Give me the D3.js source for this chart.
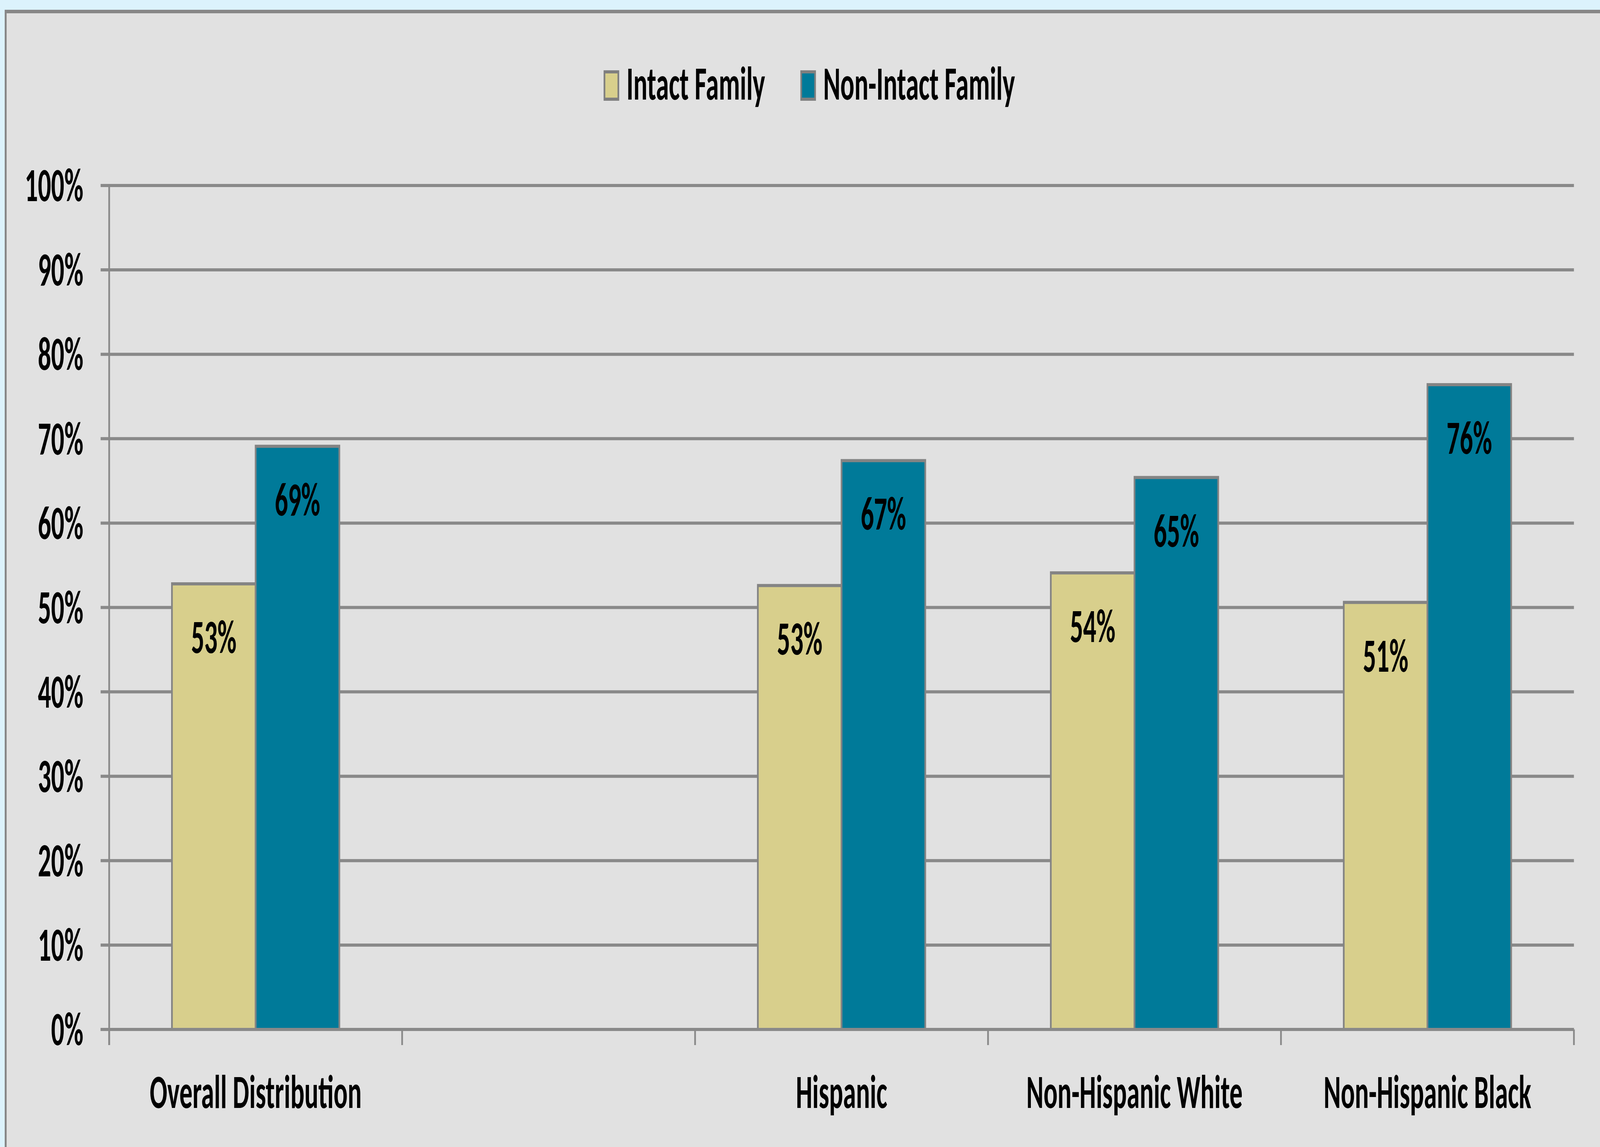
<!DOCTYPE html>
<meta charset="utf-8">
<html>
  <head>
    <script src="https://d3js.org/d3.v7.min.js"></script>
    <style>
      html, body { margin: 0; padding: 0; background: #dcf2fc; overflow: hidden; }
      text { font-family: Carlito, Lato, "Open Sans", sans-serif; font-weight: bold; fill: #000; }
    </style>
  </head>
  <body>
    <div id="chart"></div>

    <script type="text/javascript">
      var categories = ["Overall Distribution", "", "Hispanic", "Non-Hispanic White", "Non-Hispanic Black"],
          series = ["Intact Family", "Non-Intact Family"],
          intactValues = [0.528, null, 0.526, 0.541, 0.506],
          nonIntactValues = [0.691, null, 0.674, 0.654, 0.764],
          yTickValues = [0, 0.1, 0.2, 0.3, 0.4, 0.5, 0.6, 0.7, 0.8, 0.9, 1],
          colors = ["#d8cf8c", "#007a99"];

      var W = 7489, H = 2937,
          plotLeft = 511, plotRight = 7367, plotTop = 475, plotBottom = 2636,
          fontSize = 122,
          lineColor = "#898989", barStroke = "#848484";

      // drawn in 7489x2937 units, stretched to whatever the window really is
      var svg = d3.select("#chart").append("svg")
          .attr("viewBox", "0 0 " + W + " " + H)
          .attr("preserveAspectRatio", "none")
          .style("width", "100vw")
          .style("height", "100vh")
          .style("display", "block");

      // light blue page + gray chart area with border on top/left only
      svg.append("rect").attr("width", W).attr("height", H).attr("fill", "#dcf2fc");
      svg.append("rect").attr("x", 22).attr("y", 25).attr("width", W - 22).attr("height", H - 25).attr("fill", "#e1e1e1");
      svg.append("rect").attr("x", 22).attr("y", 25).attr("width", W - 22).attr("height", 9).attr("fill", "#878787");
      svg.append("rect").attr("x", 22).attr("y", 25).attr("width", 9).attr("height", H - 25).attr("fill", "#878787");

      var x0 = d3.scaleBand().domain(categories).range([plotLeft, plotRight]).padding(0);
      var x1 = d3.scaleBand().domain(series).range([0, x0.bandwidth()]).paddingInner(0).paddingOuter(0.75);
      var y = d3.scaleLinear().domain([0, 1]).range([plotBottom, plotTop]);

      var rows = categories.map(function(c, i) {
        return { cat: c, values: [intactValues[i], nonIntactValues[i]] };
      });

      // gridlines
      svg.append("g").selectAll("line")
          .data(yTickValues)
          .enter().append("line")
          .attr("x1", plotLeft - 40).attr("x2", plotRight)
          .attr("y1", function(d){ return y(d); })
          .attr("y2", function(d){ return y(d); })
          .style("stroke", lineColor)
          .style("stroke-width", 8);

      // y tick labels
      svg.append("g").selectAll("text")
          .data(yTickValues)
          .enter().append("text")
          .attr("x", 390)
          .attr("y", function(d){ return y(d) + fontSize * 0.33; })
          .attr("text-anchor", "end")
          .style("font-size", fontSize + "px")
          .text(d3.format(".0%"));

      // bars
      var groups = svg.append("g").selectAll("g")
          .data(rows)
          .enter().append("g")
          .attr("transform", function(d){ return "translate(" + x0(d.cat) + ",0)"; });

      var barData = function(d) {
        return series.map(function(s, j) { return { s: s, j: j, v: d.values[j] }; })
                     .filter(function(b) { return b.v != null; });
      };

      groups.selectAll("rect")
          .data(barData)
          .enter().append("rect")
          .attr("x", function(d){ return x1(d.s); })
          .attr("width", x1.bandwidth())
          .attr("y", function(d){ return y(d.v); })
          .attr("height", function(d){ return plotBottom - y(d.v); })
          .style("fill", function(d){ return colors[d.j]; })
          .style("stroke", barStroke)
          .style("stroke-width", 8);

      groups.selectAll("text")
          .data(barData)
          .enter().append("text")
          .attr("x", function(d){ return x1(d.s) + x1.bandwidth() / 2; })
          .attr("y", function(d){ return y(d.v) + 177; })
          .attr("text-anchor", "middle")
          .style("font-size", fontSize + "px")
          .text(function(d){ return d3.format(".0%")(d.v); });

      // axes lines
      svg.append("line")
          .attr("x1", plotLeft).attr("x2", plotLeft)
          .attr("y1", plotTop - 4).attr("y2", plotBottom + 40)
          .style("stroke", lineColor).style("stroke-width", 8);
      svg.append("line")
          .attr("x1", plotLeft - 40).attr("x2", plotRight)
          .attr("y1", plotBottom).attr("y2", plotBottom)
          .style("stroke", lineColor).style("stroke-width", 8);

      var bounds = categories.map(function(c){ return x0(c); }).concat([plotRight]);
      svg.append("g").selectAll("line")
          .data(bounds)
          .enter().append("line")
          .attr("x1", function(d){ return d; })
          .attr("x2", function(d){ return d; })
          .attr("y1", plotBottom).attr("y2", plotBottom + 40)
          .style("stroke", lineColor)
          .style("stroke-width", 8);

      // category labels
      svg.append("g").selectAll("text")
          .data(categories)
          .enter().append("text")
          .attr("x", function(d){ return x0(d) + x0.bandwidth() / 2; })
          .attr("y", 2837)
          .attr("text-anchor", "middle")
          .style("font-size", fontSize + "px")
          .text(function(d){ return d; });

      // legend, centred near the top
      var legend = svg.append("g");
      var cursor = 0;
      series.forEach(function(s, i) {
        var item = legend.append("g").attr("transform", "translate(" + cursor + ",0)");
        item.append("rect")
            .attr("x", 4).attr("y", 184)
            .attr("width", 65).attr("height", 70)
            .style("fill", colors[i])
            .style("stroke", "#7f7f7f")
            .style("stroke-width", 8);
        var t = item.append("text")
            .attr("x", 107).attr("y", 255)
            .style("font-size", fontSize + "px")
            .text(s);
        cursor += 107 + t.node().getComputedTextLength() + 165;
      });
      var legendW = cursor - 165;
      legend.attr("transform", "translate(" + (3788 - legendW / 2) + ",0)");
    </script>
  </body>
</html>
